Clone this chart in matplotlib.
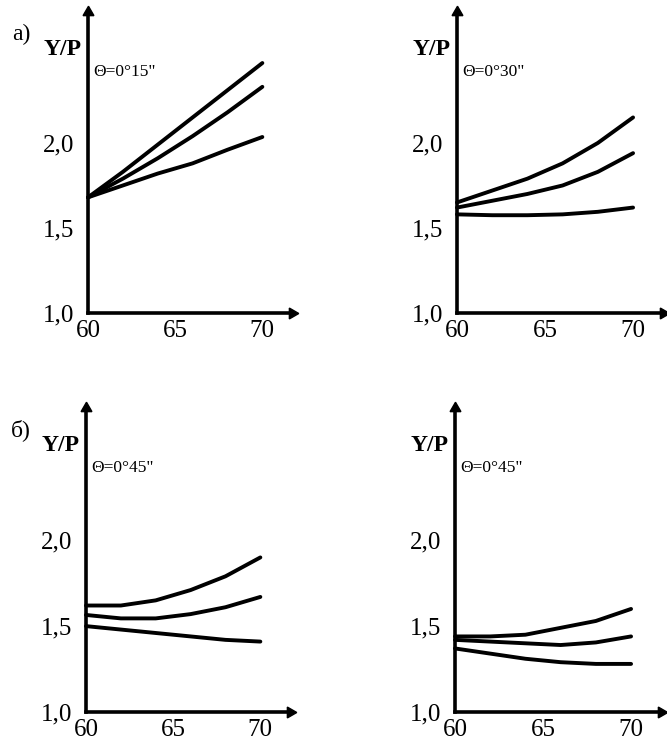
import matplotlib
matplotlib.use("Agg")
import matplotlib.pyplot as plt

plt.rcParams['font.family'] = ['Liberation Serif', 'DejaVu Serif']

x = [60, 62, 64, 66, 68, 70]

# panel a) left, theta = 0°15"
tl_top = [1.68, 1.83, 1.99, 2.15, 2.31, 2.47]
tl_mid = [1.68, 1.79, 1.91, 2.04, 2.18, 2.33]
tl_bot = [1.68, 1.75, 1.82, 1.88, 1.96, 2.035]
# panel a) right, theta = 0°30"
tr_top = [1.65, 1.72, 1.79, 1.88, 2.00, 2.15]
tr_mid = [1.62, 1.66, 1.70, 1.75, 1.83, 1.94]
tr_bot = [1.58, 1.575, 1.575, 1.58, 1.595, 1.62]
# panel б) left, theta = 0°45"
bl_top = [1.62, 1.62, 1.65, 1.71, 1.79, 1.90]
bl_mid = [1.565, 1.545, 1.545, 1.57, 1.61, 1.67]
bl_bot = [1.50, 1.48, 1.46, 1.44, 1.42, 1.41]
# panel б) right, theta = 0°45"
br_top = [1.44, 1.44, 1.45, 1.49, 1.53, 1.60]
br_mid = [1.42, 1.41, 1.40, 1.39, 1.405, 1.44]
br_bot = [1.37, 1.34, 1.31, 1.29, 1.28, 1.28]

xticks = [60, 65, 70]
xticklabels = ["60", "65", "70"]
yticks = [1.0, 1.5, 2.0]
yticklabels = ["1,0", "1,5", "2,0"]

panels = [
    (tl_top, tl_mid, tl_bot, 'Θ=0°15"', "a)"),
    (tr_top, tr_mid, tr_bot, 'Θ=0°30"', None),
    (bl_top, bl_mid, bl_bot, 'Θ=0°45"', "б)"),
    (br_top, br_mid, br_bot, 'Θ=0°45"', None),
]

W, H = 667, 744
fig = plt.figure(figsize=(W / 100, H / 100), dpi=100)

# axes rectangles in pixels: (left, x-axis y, right, top)
rects = [
    (88, 313, 292, 12),
    (457, 313, 663, 12),
    (86, 712, 290, 408),
    (455, 712, 661, 408),
]

XMAX = 71.7
YMAX = 2.77

for (top, mid, bot, theta, tag), (l, b, r, t) in zip(panels, rects):
    ax = fig.add_axes([l / W, 1 - b / H, (r - l) / W, (b - t) / H])
    ax.set_xlim(60, XMAX)
    ax.set_ylim(1.0, YMAX)
    for s in ["top", "right"]:
        ax.spines[s].set_visible(False)
    for s in ["left", "bottom"]:
        ax.spines[s].set_linewidth(2.6)
        ax.spines[s].set_color("black")
    ax.plot(1, 0, marker=(3, 0, -90), ms=9, color="black",
            transform=ax.transAxes, clip_on=False)
    ax.plot(0, 1, marker=(3, 0, 0), ms=9, color="black",
            transform=ax.transAxes, clip_on=False)
    for ys in (top, mid, bot):
        ax.plot(x, ys, color="black", lw=2.8, solid_capstyle="round",
                clip_on=False)
    ax.set_xticks(xticks)
    ax.set_xticklabels(xticklabels, fontsize=18)
    ax.set_yticks(yticks)
    ax.set_yticklabels(yticklabels, fontsize=18)
    ax.tick_params(axis="both", length=0)
    ax.tick_params(axis="x", pad=5)
    ax.tick_params(axis="y", pad=10)
    for lab in ax.get_yticklabels():
        lab.set_verticalalignment("center_baseline")
    ax.text(-0.03, 2.55, "Y/P", transform=ax.get_yaxis_transform(),
            ha="right", va="center", fontsize=17, fontweight="bold")
    ax.text(60.3, 2.42, theta, ha="left", va="center", fontsize=12.5)
    if tag:
        ax.text(-0.37, 2.64, tag, transform=ax.get_yaxis_transform(),
                ha="left", va="center", fontsize=17)

fig.savefig("out.png", dpi=100)
